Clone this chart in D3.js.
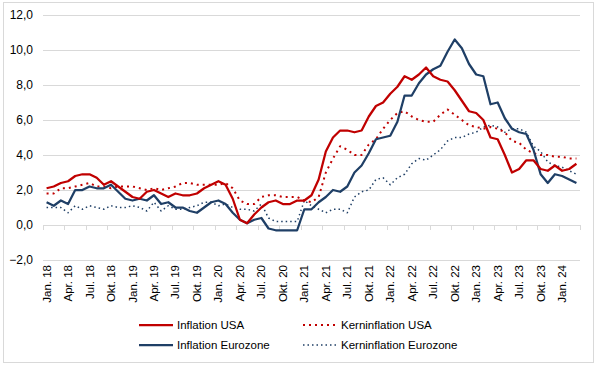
<!DOCTYPE html>
<html><head><meta charset="utf-8">
<script src="https://cdn.jsdelivr.net/npm/d3@7"></script>
<style>body{margin:0;background:#fff}svg{display:block}</style>
</head><body><svg id="c" width="596" height="365"></svg>
<script>
const months = ["Jan.","Feb.","Mär.","Apr.","Mai","Jun.","Jul.","Aug.","Sep.","Okt.","Nov.","Dez."];
const categories = [];
for (let y = 18; y <= 24; y++) for (let m = 0; m < 12; m++) { if (y === 24 && m > 2) break; categories.push(months[m] + " " + y); }
const inflationUSA = [2.1,2.2,2.4,2.5,2.8,2.9,2.9,2.7,2.3,2.5,2.2,1.9,
 1.6,1.5,1.9,2.0,1.8,1.6,1.8,1.7,1.7,1.8,2.1,2.3,
 2.5,2.3,1.5,0.3,0.1,0.6,1.0,1.3,1.4,1.2,1.2,1.4,
 1.4,1.7,2.6,4.2,5.0,5.4,5.4,5.3,5.4,6.2,6.8,7.0,
 7.5,7.9,8.5,8.3,8.6,9.0,8.5,8.3,8.2,7.7,7.1,6.5,
 6.4,6.0,5.0,4.9,4.0,3.0,3.2,3.7,3.7,3.2,3.1,3.4,
 3.1,3.2,3.5];
const kernUSA = [1.8,1.8,2.1,2.1,2.2,2.3,2.4,2.2,2.2,2.1,2.2,2.2,
 2.2,2.1,2.0,2.1,2.0,2.1,2.2,2.4,2.4,2.3,2.3,2.3,
 2.3,2.4,2.1,1.4,1.2,1.2,1.6,1.7,1.7,1.6,1.6,1.6,
 1.4,1.3,1.6,3.0,3.8,4.5,4.3,4.0,4.0,4.6,4.9,5.5,
 6.0,6.4,6.5,6.2,6.0,5.9,5.9,6.3,6.6,6.3,6.0,5.7,
 5.6,5.5,5.6,5.5,5.3,4.8,4.7,4.3,4.1,4.0,4.0,3.9,
 3.9,3.8,3.8];
const inflationEZ = [1.3,1.1,1.4,1.2,2.0,2.0,2.2,2.1,2.1,2.3,1.9,1.5,
 1.4,1.5,1.4,1.7,1.2,1.3,1.0,1.0,0.8,0.7,1.0,1.3,
 1.4,1.2,0.7,0.3,0.1,0.3,0.4,-0.2,-0.3,-0.3,-0.3,-0.3,
 0.9,0.9,1.3,1.6,2.0,1.9,2.2,3.0,3.4,4.1,4.9,5.0,
 5.1,5.9,7.4,7.4,8.1,8.6,8.9,9.1,9.9,10.6,10.1,9.2,
 8.6,8.5,6.9,7.0,6.1,5.5,5.3,5.2,4.3,2.9,2.4,2.9,
 2.8,2.6,2.4];
const kernEZ = [1.0,1.0,1.0,0.7,1.1,0.9,1.1,1.0,0.9,1.1,1.0,1.0,
 1.1,1.0,0.8,1.3,0.8,1.1,0.9,0.9,1.0,1.1,1.3,1.3,
 1.1,1.2,1.0,0.9,0.9,0.8,1.2,0.4,0.2,0.2,0.2,0.2,
 1.4,1.1,0.9,0.7,0.9,0.9,0.7,1.6,1.9,2.0,2.6,2.7,
 2.3,2.7,2.9,3.5,3.8,3.7,4.0,4.3,4.8,5.0,5.0,5.2,
 5.3,5.6,5.7,5.6,5.3,5.5,5.5,5.3,4.5,4.2,3.6,3.4,
 3.3,3.1,2.9];
const yTicks = [-2,0,2,4,6,8,10,12];
const seriesNames = ["Inflation USA","Kerninflation USA","Inflation Eurozone","Kerninflation Eurozone"];

const svg = d3.select("#c");
const grid = "#d9d9d9";
svg.append("rect").attr("x",3.5).attr("y",2.5).attr("width",590).attr("height",360).attr("fill","none").attr("stroke",grid);

const x = d3.scaleBand().domain(categories).range([43,580]);
const y = d3.scaleLinear().domain([-2,12]).range([260,15]);

// gridlines
svg.append("g").selectAll("line").data(yTicks).join("line")
  .attr("x1",43).attr("x2",580).attr("y1",d=>Math.round(y(d))+0.5).attr("y2",d=>Math.round(y(d))+0.5)
  .attr("stroke",grid).attr("stroke-width",1);

// y labels
svg.append("g").selectAll("text").data(yTicks).join("text")
  .attr("x",33).attr("y",d=>y(d)).attr("dy","0.35em").attr("text-anchor","end")
  .attr("font-family","Liberation Sans, Arial, sans-serif").attr("font-size",12).attr("fill","#000")
  .text(d=>d3.format(".1f")(d).replace(".",","));

// x ticks at category boundaries every 3
const bw = x.bandwidth();
const tickIdx = d3.range(0, categories.length+1, 3);
svg.append("g").selectAll("line").data(tickIdx).join("line")
  .attr("x1",i=>Math.round(43+i*bw)+0.5).attr("x2",i=>Math.round(43+i*bw)+0.5)
  .attr("y1",y(0)).attr("y2",y(0)+5).attr("stroke",grid);

// x labels
const labIdx = d3.range(0, categories.length, 3);
svg.append("g").selectAll("text").data(labIdx).join("text")
  .attr("transform",i=>`translate(${x(categories[i])+bw/2+4},265) rotate(-90)`)
  .attr("text-anchor","end")
  .attr("font-family","Liberation Sans, Arial, sans-serif").attr("font-size",11.5).attr("fill","#000")
  .text(i=>categories[i]);

const line = d3.line().x((d,i)=>x(categories[i])+bw/2).y(d=>y(d));
const red = "#C00000", navy = "#1F3F66";
const styles = [
  {data:inflationUSA,color:red,w:2.25,dash:null},
  {data:kernUSA,color:red,w:2,dash:"2,4"},
  {data:inflationEZ,color:navy,w:2.25,dash:null},
  {data:kernEZ,color:navy,w:1.5,dash:"1.5,3"}
];
// draw order: dotted first
[3,1,2,0].forEach(k=>{
  const s = styles[k];
  svg.append("path").datum(s.data).attr("d",line).attr("fill","none")
    .attr("stroke",s.color).attr("stroke-width",s.w).attr("stroke-linejoin","round")
    .attr("stroke-dasharray",s.dash);
});

// legend
const legPos = [[139,325],[303,325],[139,345],[303,345]];
seriesNames.forEach((n,k)=>{
  const s = styles[k], [lx,ly] = legPos[k];
  svg.append("line").attr("x1",lx).attr("x2",lx+34).attr("y1",ly).attr("y2",ly)
    .attr("stroke",s.color).attr("stroke-width",s.w).attr("stroke-dasharray",s.dash);
  svg.append("text").attr("x",lx+38).attr("y",ly).attr("dy","0.35em")
    .attr("font-family","Liberation Sans, Arial, sans-serif").attr("font-size",11.5).attr("fill","#000").text(n);
});
</script></body></html>
